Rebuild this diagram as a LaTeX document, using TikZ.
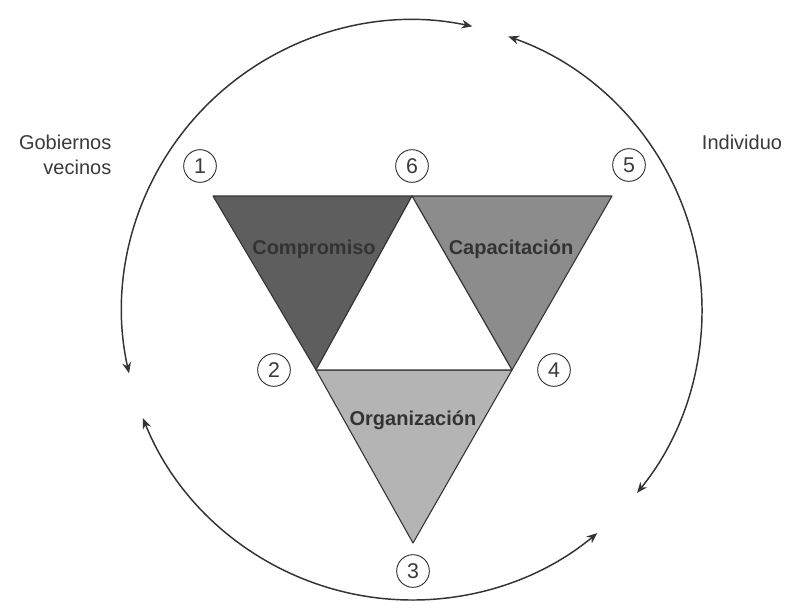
\documentclass[tikz,border=0pt]{standalone}
\usepackage{fontspec}
\setmainfont{Liberation Sans}
\usetikzlibrary{arrows.meta}
\definecolor{darkfill}{HTML}{5E5E5E}
\definecolor{midfill}{HTML}{8C8C8C}
\definecolor{lightfill}{HTML}{B4B4B4}
\definecolor{edge}{HTML}{333333}
\definecolor{txt}{HTML}{3A3A3A}
\tikzset{
  tri/.style={draw=edge, line width=0.8pt, line join=round},
  numc/.style={circle, draw=edge, line width=0.7pt, minimum size=24.5pt, inner sep=0pt,
    font=\fontsize{16}{16}\selectfont, text=txt},
  outer/.style={font=\fontsize{15}{18}\selectfont, text=txt},
  inner/.style={font=\bfseries\fontsize{15}{18}\selectfont, text=edge},
  cyc/.style={line width=1.1pt, draw=edge, {Stealth[length=8pt,width=6.5pt]}-{Stealth[length=8pt,width=6.5pt]}}
}
\begin{document}
\begin{tikzpicture}[x=0.75pt,y=-0.75pt]
\useasboundingbox (0,0) rectangle (790,612);
\fill[white] (0,0) rectangle (790,612);
% vertices
\coordinate (TL) at (213,196);
\coordinate (TM) at (412,196);
\coordinate (TR) at (612,196);
\coordinate (ML) at (316,370);
\coordinate (MR) at (512,370);
\coordinate (BT) at (413,543);
% triangles
\filldraw[tri, fill=darkfill] (TL) -- (TM) -- (ML) -- cycle;
\filldraw[tri, fill=midfill] (TM) -- (TR) -- (MR) -- cycle;
\filldraw[tri, fill=lightfill] (ML) -- (MR) -- (BT) -- cycle;
\filldraw[tri, fill=white] (TM) -- (MR) -- (ML) -- cycle;
% triangle labels
\node[inner] (coop) at (314,249) {Compromiso};
\node[inner] (capa) at (511,249) {Capacitación};
\node[inner] (orga) at (413,420) {Organización};
% numbered circles
\node[numc] (n1) at (200,166) {1};
\node[numc] (n6) at (412,166) {6};
\node[numc] (n5) at (629,165) {5};
\node[numc] (n2) at (274,370) {2};
\node[numc] (n4) at (554,370) {4};
\node[numc] (n3) at (413,571) {3};
% outer labels
\node[outer, anchor=east] (gob) at (116,142) {Gobiernos};
\node[outer, anchor=east] (vec) at (116,167) {vecinos};
\node[outer] (ind) at (742,142) {Individuo};
% cycle arcs
\coordinate (O) at (412,310);
\path (O) ++(-192.6:290) coordinate (a1s);
\path (O) ++(-70.6:290) coordinate (a2s);
\path (O) ++(-201.9:290) coordinate (a3s);
\draw[cyc] (a1s) arc[start angle=-192.6, end angle=-78, radius=290];
\draw[cyc] (a2s) arc[start angle=-70.6, end angle=39.1, radius=290];
\draw[cyc] (a3s) arc[start angle=-201.9, end angle=-309.7, radius=290];
\end{tikzpicture}
\end{document}
